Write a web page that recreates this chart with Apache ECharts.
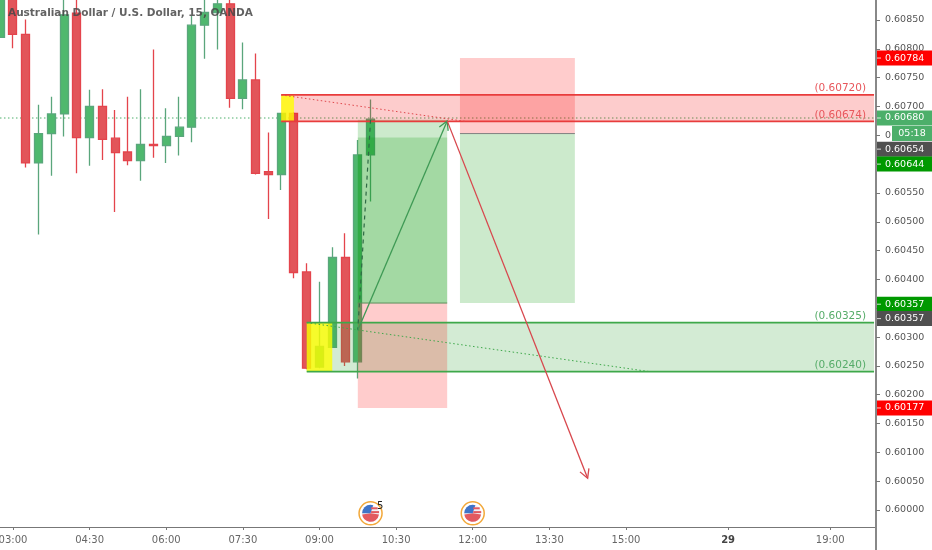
<!DOCTYPE html>
<html><head><meta charset="utf-8">
<style>html,body{margin:0;padding:0;background:#fff}#c{width:932px;height:550px}</style>
<script src="https://cdn.jsdelivr.net/npm/echarts@6/dist/echarts.min.js"></script>
</head><body><div id="c"></div>
<script>
// time = minutes since 03:00
const times  = [-15,0,15,30,45,60,75,90,105,120,135,150,165,180,195,210,225,240,255,270,285,300,315,330,345,360,375,390,405,420];
const opens  = [.60820,.60902,.60825,.60602,.60653,.60687,.60862,.60646,.60700,.60645,.60621,.60606,.60634,.60632,.60648,.60664,.60841,.60863,.60878,.60714,.60746,.60587,.60582,.60688,.60413,.60248,.60282,.60438,.60257,.60616];
const closes = [.60902,.60825,.60602,.60653,.60687,.60859,.60646,.60700,.60643,.60620,.60606,.60634,.60632,.60648,.60664,.60841,.60863,.60878,.60714,.60746,.60584,.60582,.60688,.60412,.60246,.60284,.60438,.60257,.60616,.60678];
const lows   = [.60820,.60801,.60594,.60478,.60580,.60648,.60584,.60597,.60607,.60517,.60598,.60571,.60611,.60602,.60615,.60638,.60783,.60799,.60698,.60695,.60582,.60505,.60555,.60402,.60244,.60246,.60282,.60250,.60228,.60535];
const highs  = [.60902,.60902,.60851,.60703,.60717,.60902,.60902,.60729,.60730,.60694,.60717,.60730,.60799,.60697,.60717,.60857,.60902,.60902,.60895,.60811,.60792,.60655,.60688,.60690,.60428,.60396,.60456,.60480,.60642,.60712];

const priceTicks = [.60000,.60050,.60100,.60150,.60200,.60250,.60300,.60350,.60400,.60450,.60500,.60550,.60600,.60650,.60700,.60750,.60800,.60850];
const timeTicks  = [0,90,180,270,360,450,540,630,720,840,960];
const timeLabels = ['03:00','04:30','06:00','07:30','09:00','10:30','12:00','13:30','15:00','29','19:00'];

// [t0, t1, p0, p1]
const zoneRed    = [[315,1011.4,.60720,.60674]];
const zoneGreen  = [[345,1011.4,.60325,.60240]];
const yellowBoxes= [[315,330,.60720,.60674],[345,375,.60325,.60240]];
const greenBoxes = [[405,510,.60677,.60359],[405,510,.60646,.60359],[525,660,.60653,.60359]];
const pinkBoxes  = [[405,510,.60359,.60177],[525,660,.60784,.60653]];

// [t0, p0, t1, p1]
const dividerDark  = [[405,.60359,510,.60359]];
const dividerGray  = [[525,.60653,660,.60653]];
const lastPriceLine= [[-15.3,.60680,1011.4,.60680]];
const dottedGreen  = [[345,.60325,748,.60240]];
const dottedRed    = [[315,.60720,532,.60674]];
const dashedDark   = [[420,.60677,405,.60312]];
const arrowGreen   = [[405,.60312,510,.60675]];
const arrowRed     = [[510,.60675,675,.60055]];

const zoneLabelTimes  = [1002,1002,1002,1002];
const zoneLabelPrices = [.60720,.60674,.60325,.60240];
const zoneLabelTexts  = ['(0.60720)','(0.60674)','(0.60325)','(0.60240)'];

const tagTexts  = ['0.60784','0.60680','05:18','0.60654','0.60644','0.60357','0.60357','0.60177'];
const tagPrices = [.60784,.60680,.60653,.60626,.60600,.60357,.60332,.60177];
const tagColors = ['#ff0000','#4caf6a','#4caf6a','#505050','#009900','#009900','#505050','#ff0000'];

const eventTimes  = [420,540];
const eventCounts = ['5',''];

const FONT = 'DejaVu Sans';

function rectSeries(name, data, fill, stroke, z){
  return {type:'custom',name,z,silent:true,clip:true,data,
    encode:{x:[0,1],y:[2,3]},
    renderItem(p,api){
      const a=api.coord([api.value(0),api.value(2)]), b=api.coord([api.value(1),api.value(3)]);
      return {type:'rect',shape:{x:a[0],y:a[1],width:b[0]-a[0],height:b[1]-a[1]},style:{fill,stroke:'none'}};
    }};
}
function edgeSeries(name, data, stroke, z){
  return {type:'custom',name,z,silent:true,clip:true,data,
    encode:{x:[0,1],y:[2,3]},
    renderItem(p,api){
      const a=api.coord([api.value(0),api.value(2)]), b=api.coord([api.value(1),api.value(3)]);
      return {type:'group',children:[a[1],b[1]].map(y=>({type:'line',
        shape:{x1:a[0],y1:y,x2:b[0],y2:y},style:{stroke,lineWidth:1.8}}))};
    }};
}
function lineSeries(name, data, stroke, width, dash, arrow, z){
  return {type:'custom',name,z,silent:true,clip:true,data,
    encode:{x:[0,2],y:[1,3]},
    renderItem(p,api){
      const a=api.coord([api.value(0),api.value(1)]), b=api.coord([api.value(2),api.value(3)]);
      const kids=[{type:'line',shape:{x1:a[0],y1:a[1],x2:b[0],y2:b[1]},
        style:{stroke,lineWidth:width,lineDash:dash||null}}];
      if(arrow){
        const ang=Math.atan2(b[1]-a[1],b[0]-a[0]), L=10, s=0.5;
        const pts=[[b[0]-L*Math.cos(ang-s),b[1]-L*Math.sin(ang-s)],b,[b[0]-L*Math.cos(ang+s),b[1]-L*Math.sin(ang+s)]];
        kids.push({type:'polyline',shape:{points:pts},style:{stroke,lineWidth:width,fill:'none'}});
      }
      return {type:'group',children:kids};
    }};
}

const option = {
  animation:false,
  backgroundColor:'#ffffff',
  title:{text:'Australian Dollar / U.S. Dollar, 15, OANDA',left:8,top:8,padding:0,
    textStyle:{fontFamily:FONT,fontSize:10.5,fontWeight:'bold',color:'rgba(70,70,70,0.85)'}},
  grid:{left:0,right:56,top:0,bottom:23,outerBoundsMode:'none'},
  xAxis:{type:'value',min:-15.27,max:1013.7,splitLine:{show:false},
    axisLine:{show:true,onZero:false,lineStyle:{color:'#777',width:1}},
    axisTick:{show:true,length:3,lineStyle:{color:'#777'},customValues:timeTicks},
    axisLabel:{customValues:timeTicks,margin:8,fontFamily:FONT,fontSize:10,color:'#666',
      showMinLabel:true,showMaxLabel:true,hideOverlap:false,
      formatter:v=>{const s=timeLabels[timeTicks.indexOf(v)];return s==='29'?'{b|29}':s;},
      rich:{b:{fontFamily:FONT,fontSize:10,fontWeight:'bold',color:'#444'}}}},
  yAxis:{type:'value',position:'right',min:.599705,max:.608847,scale:true,splitLine:{show:false},
    axisLine:{show:true,onZero:false,lineStyle:{color:'#888',width:2}},
    axisTick:{show:true,length:4,lineStyle:{color:'#777'},customValues:priceTicks},
    axisLabel:{customValues:priceTicks,margin:9,fontFamily:FONT,fontSize:9.5,color:'#555',hideOverlap:false,
      formatter:v=>v.toFixed(5)}},
  graphic:[{type:'line',z:10,shape:{x1:876,y1:527,x2:876,y2:550},style:{stroke:'#888',lineWidth:2}}],
  series:[
    {type:'candlestick',name:'AUDUSD',z:2,barWidth:8.5,clip:true,
      data:times.map((t,i)=>[t,opens[i],closes[i],lows[i],highs[i]]),
      itemStyle:{color:'#4fb86e',color0:'#e2555a',borderColor:'#5aa67c',borderColor0:'#e4444c',borderWidth:1.3}},
    lineSeries('last price',lastPriceLine,'#4caf6a',1,[1.5,2.5],false,1),
    rectSeries('zone red',zoneRed,'rgba(244,0,0,0.2)',null,3),
    rectSeries('zone green',zoneGreen,'rgba(56,165,60,0.22)',null,3),
    rectSeries('long',greenBoxes,'rgba(0,150,0,0.2)',null,3),
    rectSeries('short',pinkBoxes,'rgba(255,0,0,0.2)',null,3),
    rectSeries('yellow',yellowBoxes,'rgba(255,255,0,0.8)',null,4),
    edgeSeries('zone red edges',zoneRed,'#e83c3c',5),
    edgeSeries('zone green edges',zoneGreen,'#3ea84a',5),
    lineSeries('divider',dividerDark,'#5a8f5a',1,null,false,5),
    lineSeries('divider gray',dividerGray,'#808080',1,null,false,5),
    lineSeries('dotted green',dottedGreen,'#3ea84a',1,[1.5,2.5],false,5),
    lineSeries('dotted red',dottedRed,'#e0484c',1,[1.5,2.5],false,5),
    lineSeries('dashed',dashedDark,'#2f6a45',1.2,[4,4],false,5),
    lineSeries('arrow green',arrowGreen,'#3f9a55',1.3,null,true,6),
    lineSeries('arrow red',arrowRed,'#d8474d',1.3,null,true,6),
    {type:'custom',name:'zone labels',z:7,silent:true,clip:false,
      data:zoneLabelTimes.map((t,i)=>[t,zoneLabelPrices[i],i]),encode:{x:0,y:1},
      renderItem(p,api){
        const c=api.coord([api.value(0),api.value(1)]), i=api.value(2);
        return {type:'text',style:{x:c[0],y:c[1]-1,text:zoneLabelTexts[i],align:'right',verticalAlign:'bottom',
          font:'10.5px "'+FONT+'"',fill:i<2?'#e8575c':'#56ac69'}};
      }},
    {type:'custom',name:'events',z:7,silent:true,clip:false,
      data:eventTimes.map((t,i)=>[t,i]),encode:{x:0},
      renderItem(p,api){
        const x=api.coord([api.value(0),.6])[0], y=513.3, i=api.value(1), r=8.5;
        return {type:'group',children:[
          {type:'circle',shape:{cx:x,cy:y,r:11.5},style:{fill:'#fff',stroke:'#f2a83a',lineWidth:1.5}},
          {type:'circle',shape:{cx:x,cy:y,r},style:{fill:'#f3f0f3',stroke:'none'}},
          {type:'sector',shape:{cx:x,cy:y,r,r0:0,startAngle:0.15,endAngle:Math.PI-0.15},style:{fill:'#e25a60'}},
          {type:'sector',shape:{cx:x,cy:y,r,r0:0,startAngle:Math.PI,endAngle:Math.PI*1.6},style:{fill:'#3f74c8'}},
          {type:'rect',shape:{x:x+0.5,y:y-6,width:6.5,height:2},style:{fill:'#e25a60'}},
          {type:'rect',shape:{x:x+0.5,y:y-2.2,width:8,height:2},style:{fill:'#e25a60'}},
          {type:'text',style:{x:x+9.5,y:y-6.5,text:eventCounts[i],align:'center',verticalAlign:'middle',font:'10px "'+FONT+'"',fill:'#222'}}
        ]};
      }},
    {type:'custom',name:'price tags',z:8,silent:true,clip:false,
      data:tagPrices.map((v,i)=>[1013.7,v,i]),encode:{x:0,y:1},
      renderItem(p,api){
        const c=api.coord([api.value(0),api.value(1)]), i=api.value(2), clock=tagTexts[i]==='05:18';
        const x0=clock?892:c[0]+1, h=15, y=c[1];
        const kids=[{type:'rect',shape:{x:x0,y:y-h/2,width:932-x0,height:h},style:{fill:tagColors[i]}}];
        if(!clock) kids.push({type:'line',shape:{x1:x0,y1:y,x2:x0+4,y2:y},style:{stroke:'rgba(255,255,255,.8)',lineWidth:1}});
        kids.push({type:'text',style:{x:clock?912:885,y,text:tagTexts[i],align:clock?'center':'left',verticalAlign:'middle',
          font:'9.5px "'+FONT+'"',fill:'#fff'}});
        return {type:'group',children:kids};
      }}
  ]
};
const chart = echarts.init(document.getElementById('c'),null,{renderer:'canvas',width:932,height:550});
chart.setOption(option);
</script></body></html>
